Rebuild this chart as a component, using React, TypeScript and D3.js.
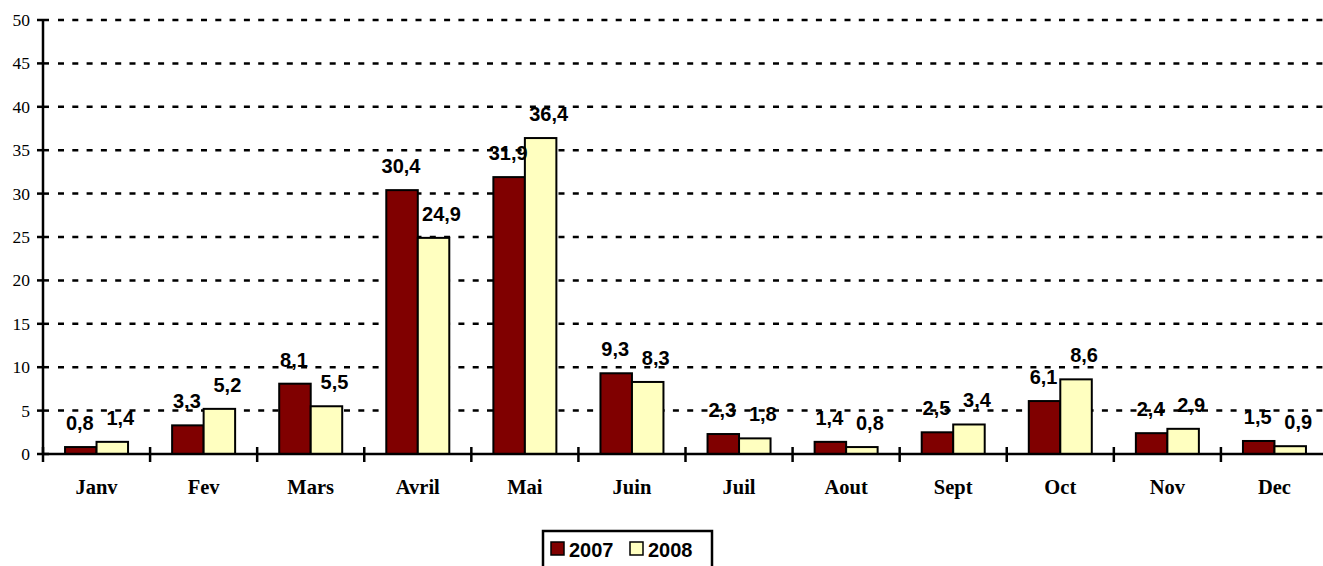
import React, { useEffect, useRef } from 'react';
import * as d3 from 'd3';

const months = ['Janv', 'Fev', 'Mars', 'Avril', 'Mai', 'Juin', 'Juil', 'Aout', 'Sept', 'Oct', 'Nov', 'Dec'];
const series = ['2007', '2008'];
const values2007 = [0.8, 3.3, 8.1, 30.4, 31.9, 9.3, 2.3, 1.4, 2.5, 6.1, 2.4, 1.5];
const values2008 = [1.4, 5.2, 5.5, 24.9, 36.4, 8.3, 1.8, 0.8, 3.4, 8.6, 2.9, 0.9];
const yTicks = [0, 5, 10, 15, 20, 25, 30, 35, 40, 45, 50];
const colors = ['#800000', '#FFFFC0'];

export default function App() {
  const svgRef = useRef<SVGSVGElement>(null);

  useEffect(() => {
    if (!svgRef.current) return;
    const svg = d3.select(svgRef.current);
    svg.selectAll('*').remove();

    const width = 1323;
    const left = 43;
    const right = 1328; // last band runs past the picture edge
    const top = 20;
    const bottom = 454;

    const x = d3.scaleBand<string>().domain(months).range([left, right]).paddingInner(0).paddingOuter(0);
    const y = d3.scaleLinear().domain([0, 50]).range([bottom, top]);
    const barW = 31.5;

    // grid
    svg.append('g')
      .selectAll('line')
      .data(yTicks.filter(t => t > 0))
      .join('line')
      .attr('x1', left + 15)
      .attr('x2', width)
      .attr('y1', d => y(d))
      .attr('y2', d => y(d))
      .attr('stroke', '#000')
      .attr('stroke-width', 2.5)
      .attr('stroke-dasharray', '6,8.3');

    // y axis
    svg.append('line')
      .attr('x1', left).attr('x2', left)
      .attr('y1', top).attr('y2', bottom)
      .attr('stroke', '#000').attr('stroke-width', 2.5);
    svg.append('g')
      .selectAll('line')
      .data(yTicks)
      .join('line')
      .attr('x1', left - 6).attr('x2', left + 6)
      .attr('y1', d => y(d)).attr('y2', d => y(d))
      .attr('stroke', '#000').attr('stroke-width', 2.5);
    svg.append('g')
      .selectAll('text')
      .data(yTicks)
      .join('text')
      .attr('x', 30)
      .attr('y', d => y(d) + 6)
      .attr('text-anchor', 'end')
      .attr('font-family', '"Liberation Serif", "Times New Roman", serif')
      .attr('font-size', 17.5)
      .text(d => d);

    // bars
    const data = months.flatMap((m, i) => [
      { m, s: 0, v: values2007[i] },
      { m, s: 1, v: values2008[i] },
    ]);
    const cx = (m: string) => (x(m) as number) + x.bandwidth() / 2;

    svg.append('g')
      .selectAll('rect')
      .data(data)
      .join('rect')
      .attr('x', d => cx(d.m) - barW + d.s * barW)
      .attr('y', d => y(d.v))
      .attr('width', barW)
      .attr('height', d => bottom - y(d.v))
      .attr('fill', d => colors[d.s])
      .attr('stroke', '#000')
      .attr('stroke-width', 2);

    // x axis
    svg.append('line')
      .attr('x1', left).attr('x2', width)
      .attr('y1', bottom).attr('y2', bottom)
      .attr('stroke', '#000').attr('stroke-width', 2.5);
    svg.append('g')
      .selectAll('line')
      .data(months.map(m => x(m) as number))
      .join('line')
      .attr('x1', d => d).attr('x2', d => d)
      .attr('y1', bottom - 7).attr('y2', bottom + 8)
      .attr('stroke', '#000').attr('stroke-width', 2.5);
    svg.append('g')
      .selectAll('text')
      .data(months)
      .join('text')
      .attr('x', d => cx(d))
      .attr('y', 494)
      .attr('text-anchor', 'middle')
      .attr('font-family', '"Liberation Serif", "Times New Roman", serif')
      .attr('font-weight', 'bold')
      .attr('font-size', 20.5)
      .text(d => d);

    // data labels
    svg.append('g')
      .selectAll('text')
      .data(data)
      .join('text')
      .attr('x', d => cx(d.m) - barW / 2 + d.s * barW + (d.s === 0 ? -1 : 8))
      .attr('y', d => y(d.v) - 17)
      .attr('text-anchor', 'middle')
      .attr('font-family', '"Liberation Sans", Arial, sans-serif')
      .attr('font-weight', 'bold')
      .attr('font-size', 20)
      .text(d => d3.format('.1f')(d.v).replace('.', ','));

    // legend
    const lg = svg.append('g');
    lg.append('rect')
      .attr('x', 543).attr('y', 531)
      .attr('width', 169).attr('height', 45)
      .attr('fill', '#fff').attr('stroke', '#000').attr('stroke-width', 2.5);
    series.forEach((s, i) => {
      const lx = 551 + i * 79;
      lg.append('rect')
        .attr('x', lx).attr('y', 542)
        .attr('width', 13).attr('height', 13)
        .attr('fill', colors[i]).attr('stroke', '#000').attr('stroke-width', 1.5);
      lg.append('text')
        .attr('x', lx + 18).attr('y', 556.5)
        .attr('font-family', '"Liberation Sans", Arial, sans-serif')
        .attr('font-weight', 'bold')
        .attr('font-size', 20)
        .text(s);
    });
  }, []);

  return (
    <svg
      ref={svgRef}
      width={1323}
      height={566}
      style={{ position: 'absolute', left: 0, top: 0, background: '#fff' }}
    />
  );
}
